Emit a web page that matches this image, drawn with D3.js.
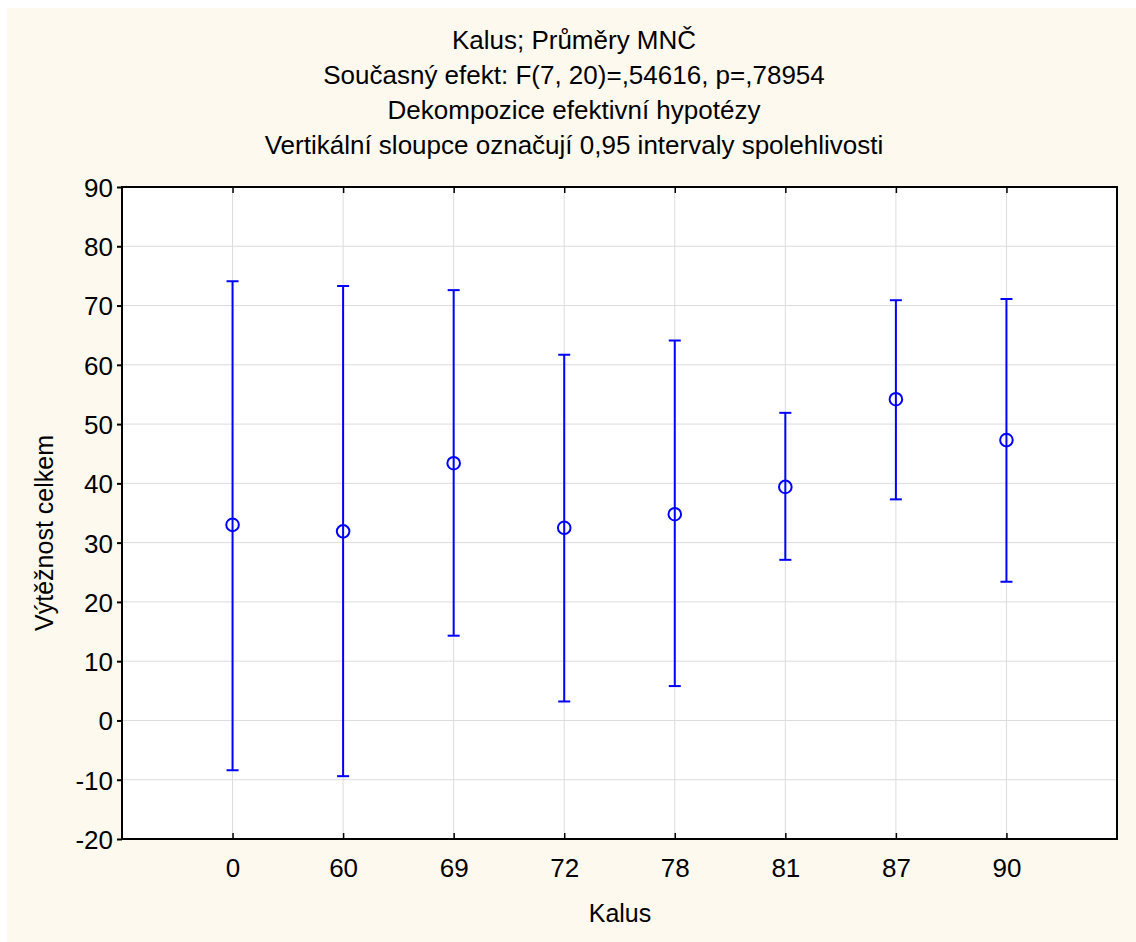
<!DOCTYPE html>
<html>
<head>
<meta charset="utf-8">
<script src="https://cdn.jsdelivr.net/npm/d3@7"></script>
<style>
  body { margin: 0; background: #fff; }
  text { font-family: "Liberation Sans", Arial, sans-serif; fill: #000; }
</style>
</head>
<body>
<div class="chart"></div>
<script>
var categories = ['0', '60', '69', '72', '78', '81', '87', '90'];
var means = [33.0, 31.9, 43.4, 32.5, 34.8, 39.4, 54.2, 47.3];
var upper = [74.1, 73.3, 72.6, 61.7, 64.1, 51.9, 70.9, 71.1];
var lower = [-8.4, -9.4, 14.3, 3.2, 5.8, 27.1, 37.3, 23.4];
var yTicks = [90, 80, 70, 60, 50, 40, 30, 20, 10, 0, -10, -20];
var titles = [
  'Kalus; Průměry MNČ',
  'Současný efekt: F(7, 20)=,54616, p=,78954',
  'Dekompozice efektivní hypotézy',
  'Vertikální sloupce označují 0,95 intervaly spolehlivosti'
];

var W = 1136, H = 942;
var m = { left: 122, right: 1117, top: 187, bottom: 839 };

var rows = categories.map((c, i) => ({ cat: c, mean: means[i], hi: upper[i], lo: lower[i] }));

const svg = d3.select('.chart')
    .append('svg')
        .attr('width', W)
        .attr('height', H);

// cream background
svg.append('rect')
    .attr('x', 7).attr('y', 8)
    .attr('width', W - 7).attr('height', H - 8)
    .attr('fill', '#fdf9ef');

const x = d3.scalePoint().domain(categories).range([m.left, m.right]).padding(1);
const y = d3.scaleLinear().domain([-20, 90]).range([m.bottom, m.top]);

svg.append('rect')
    .attr('x', m.left).attr('y', m.top)
    .attr('width', m.right - m.left).attr('height', m.bottom - m.top)
    .attr('fill', '#fff');

// grid
svg.append('g')
    .selectAll('line')
    .data(yTicks.slice(1, -1))
    .enter().append('line')
        .attr('x1', m.left).attr('x2', m.right)
        .attr('y1', d => y(d)).attr('y2', d => y(d))
        .attr('stroke', '#dcdcdc').attr('stroke-width', 1);

svg.append('g')
    .selectAll('line')
    .data(categories)
    .enter().append('line')
        .attr('x1', d => x(d)).attr('x2', d => x(d))
        .attr('y1', m.top).attr('y2', m.bottom)
        .attr('stroke', '#dcdcdc').attr('stroke-width', 1);

// axes
const yAxis = svg.append('g')
    .attr('transform', 'translate(' + m.left + ',0)')
    .call(d3.axisLeft(y).tickValues(yTicks).tickFormat(d => String(d))
        .tickSize(5).tickSizeOuter(0).tickPadding(4));
yAxis.select('.domain').remove();
yAxis.selectAll('line').attr('stroke', '#000').attr('stroke-width', 2);
yAxis.selectAll('text').style('font-size', '26px').attr('dy', '0.36em');

const xAxis = svg.append('g')
    .attr('transform', 'translate(0,' + m.bottom + ')')
    .call(d3.axisBottom(x).tickSize(-6).tickSizeOuter(0).tickPadding(20));
xAxis.select('.domain').remove();
xAxis.selectAll('line').attr('stroke', '#000').attr('stroke-width', 1.5);
xAxis.selectAll('text').style('font-size', '26px').attr('dy', '0.71em');

svg.append('g')
    .attr('transform', 'translate(0,' + m.top + ')')
    .call(d3.axisTop(x).tickSize(-6).tickSizeOuter(0).tickFormat(''))
    .call(g => g.select('.domain').remove())
    .selectAll('line').attr('stroke', '#000').attr('stroke-width', 1.5);

// frame
svg.append('rect')
    .attr('x', m.left).attr('y', m.top)
    .attr('width', m.right - m.left).attr('height', m.bottom - m.top)
    .attr('fill', 'none').attr('stroke', '#000').attr('stroke-width', 2);

// error bars
const bars = svg.append('g')
    .selectAll('g')
    .data(rows)
    .enter().append('g')
        .attr('stroke', '#0000ff').attr('stroke-width', 2).attr('fill', 'none');

bars.append('line')
    .attr('x1', d => x(d.cat)).attr('x2', d => x(d.cat))
    .attr('y1', d => y(d.lo)).attr('y2', d => y(d.hi));
bars.append('line')
    .attr('x1', d => x(d.cat) - 6).attr('x2', d => x(d.cat) + 6)
    .attr('y1', d => y(d.hi)).attr('y2', d => y(d.hi));
bars.append('line')
    .attr('x1', d => x(d.cat) - 6).attr('x2', d => x(d.cat) + 6)
    .attr('y1', d => y(d.lo)).attr('y2', d => y(d.lo));
bars.append('circle')
    .attr('cx', d => x(d.cat)).attr('cy', d => y(d.mean))
    .attr('r', 6.3);

// titles
svg.append('g')
    .selectAll('text')
    .data(titles)
    .enter().append('text')
        .attr('x', 574)
        .attr('y', (d, i) => 49 + i * 35)
        .attr('text-anchor', 'middle')
        .style('font-size', '26px')
        .text(d => d);

svg.append('text')
    .attr('x', 620).attr('y', 922)
    .attr('text-anchor', 'middle')
    .style('font-size', '25px')
    .text('Kalus');

svg.append('text')
    .attr('transform', 'translate(53,533) rotate(-90)')
    .attr('text-anchor', 'middle')
    .style('font-size', '25px')
    .text('Výtěžnost celkem');
</script>
</body>
</html>
